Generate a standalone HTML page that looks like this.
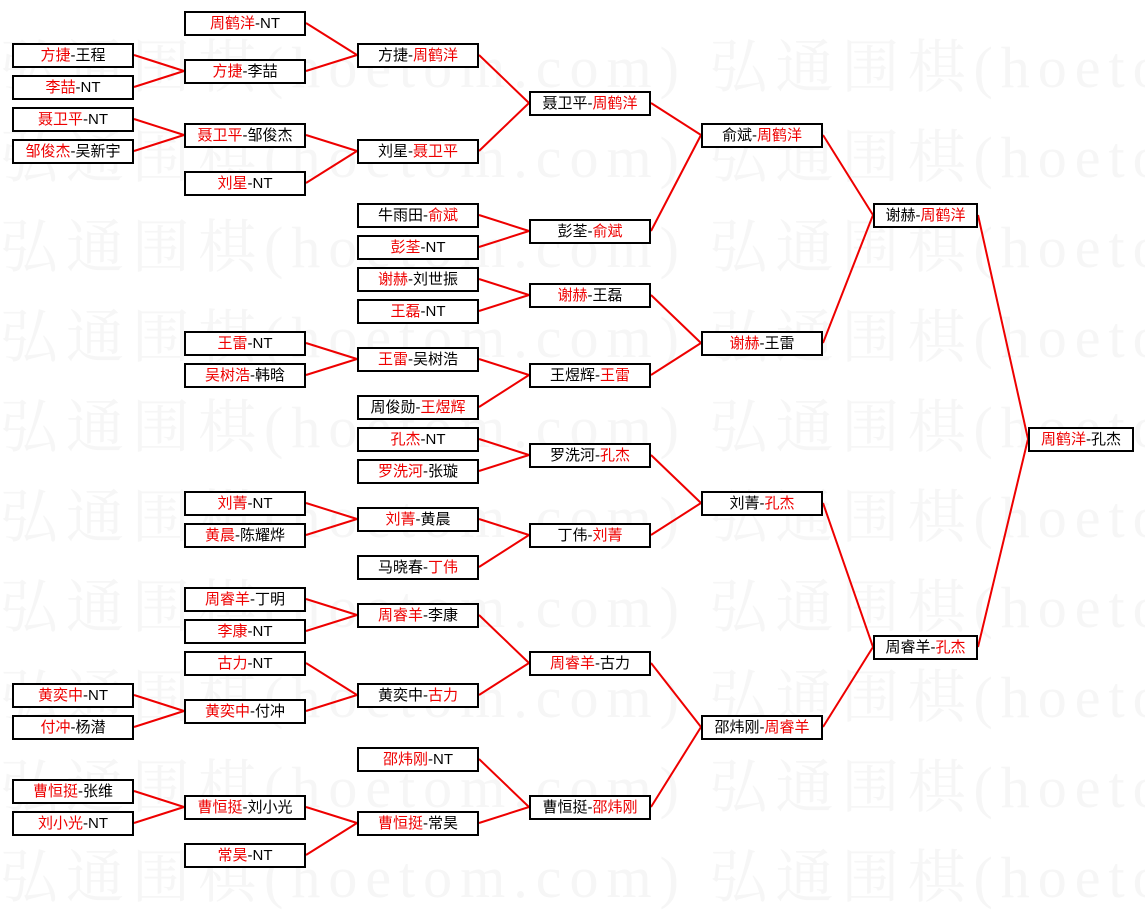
<!DOCTYPE html>
<html><head><meta charset="utf-8"><style>
body{margin:0;width:1145px;height:877px;background:#fff;position:relative;overflow:hidden;font-family:"Liberation Sans","Noto Sans CJK SC",sans-serif}
.wm{position:absolute;left:0;font-size:58px;color:#f6f6f6;white-space:nowrap;font-family:"Liberation Serif","Noto Serif CJK SC",serif;letter-spacing:8px}
.b{position:absolute;height:25px;box-sizing:border-box;border:2px solid #000;background:#fff;text-align:center;line-height:21px;font-size:15px;color:#000;white-space:nowrap}
.c1,.c2,.c3,.c4,.c5{width:122px}.c1{left:12px}.c2{left:184px}.c3{left:357px}.c4{left:529px}.c5{left:701px}
.c6{left:873px;width:105px}.c7{left:1028px;width:106px}
i{font-style:normal;color:#e00}
svg{position:absolute;left:0;top:0}
</style></head><body>
<div class="wm" style="top:20px">弘通围棋(hoetom.com) 弘通围棋(hoetom</div>
<div class="wm" style="top:110px">弘通围棋(hoetom.com) 弘通围棋(hoetom</div>
<div class="wm" style="top:200px">弘通围棋(hoetom.com) 弘通围棋(hoetom</div>
<div class="wm" style="top:290px">弘通围棋(hoetom.com) 弘通围棋(hoetom</div>
<div class="wm" style="top:380px">弘通围棋(hoetom.com) 弘通围棋(hoetom</div>
<div class="wm" style="top:470px">弘通围棋(hoetom.com) 弘通围棋(hoetom</div>
<div class="wm" style="top:560px">弘通围棋(hoetom.com) 弘通围棋(hoetom</div>
<div class="wm" style="top:650px">弘通围棋(hoetom.com) 弘通围棋(hoetom</div>
<div class="wm" style="top:740px">弘通围棋(hoetom.com) 弘通围棋(hoetom</div>
<div class="wm" style="top:830px">弘通围棋(hoetom.com) 弘通围棋(hoetom</div>
<svg width="1145" height="877"><g stroke="#e00" stroke-width="2" fill="none">
<path d="M134 55L184 71M134 87L184 71M134 119L184 135M134 151L184 135M134 695L184 711M134 727L184 711M134 791L184 807M134 823L184 807"/>
<path d="M306 23L357 55M306 71L357 55M306 135L357 151M306 183L357 151M306 343L357 359M306 375L357 359M306 503L357 519M306 535L357 519M306 599L357 615M306 631L357 615M306 663L357 695M306 711L357 695M306 807L357 823M306 855L357 823"/>
<path d="M479 55L529 103M479 151L529 103M479 215L529 231M479 247L529 231M479 279L529 295M479 311L529 295M479 359L529 375M479 407L529 375M479 439L529 455M479 471L529 455M479 519L529 535M479 567L529 535M479 615L529 663M479 695L529 663M479 759L529 807M479 823L529 807"/>
<path d="M651 103L701 135M651 231L701 135M651 295L701 343M651 375L701 343M651 455L701 503M651 535L701 503M651 663L701 727M651 807L701 727"/>
<path d="M823 135L873 215M823 343L873 215M823 503L873 647M823 727L873 647"/>
<path d="M978 215L1028 439M978 647L1028 439"/>
</g></svg>
<div class="b c1" style="top:43px"><i>方捷</i>-王程</div>
<div class="b c1" style="top:75px"><i>李喆</i>-NT</div>
<div class="b c1" style="top:107px"><i>聂卫平</i>-NT</div>
<div class="b c1" style="top:139px"><i>邹俊杰</i>-吴新宇</div>
<div class="b c1" style="top:683px"><i>黄奕中</i>-NT</div>
<div class="b c1" style="top:715px"><i>付冲</i>-杨潜</div>
<div class="b c1" style="top:779px"><i>曹恒挺</i>-张维</div>
<div class="b c1" style="top:811px"><i>刘小光</i>-NT</div>

<div class="b c2" style="top:11px"><i>周鹤洋</i>-NT</div>
<div class="b c2" style="top:59px"><i>方捷</i>-李喆</div>
<div class="b c2" style="top:123px"><i>聂卫平</i>-邹俊杰</div>
<div class="b c2" style="top:171px"><i>刘星</i>-NT</div>
<div class="b c2" style="top:331px"><i>王雷</i>-NT</div>
<div class="b c2" style="top:363px"><i>吴树浩</i>-韩晗</div>
<div class="b c2" style="top:491px"><i>刘菁</i>-NT</div>
<div class="b c2" style="top:523px"><i>黄晨</i>-陈耀烨</div>
<div class="b c2" style="top:587px"><i>周睿羊</i>-丁明</div>
<div class="b c2" style="top:619px"><i>李康</i>-NT</div>
<div class="b c2" style="top:651px"><i>古力</i>-NT</div>
<div class="b c2" style="top:699px"><i>黄奕中</i>-付冲</div>
<div class="b c2" style="top:795px"><i>曹恒挺</i>-刘小光</div>
<div class="b c2" style="top:843px"><i>常昊</i>-NT</div>

<div class="b c3" style="top:43px">方捷-<i>周鹤洋</i></div>
<div class="b c3" style="top:139px">刘星-<i>聂卫平</i></div>
<div class="b c3" style="top:203px">牛雨田-<i>俞斌</i></div>
<div class="b c3" style="top:235px"><i>彭荃</i>-NT</div>
<div class="b c3" style="top:267px"><i>谢赫</i>-刘世振</div>
<div class="b c3" style="top:299px"><i>王磊</i>-NT</div>
<div class="b c3" style="top:347px"><i>王雷</i>-吴树浩</div>
<div class="b c3" style="top:395px">周俊勋-<i>王煜辉</i></div>
<div class="b c3" style="top:427px"><i>孔杰</i>-NT</div>
<div class="b c3" style="top:459px"><i>罗洗河</i>-张璇</div>
<div class="b c3" style="top:507px"><i>刘菁</i>-黄晨</div>
<div class="b c3" style="top:555px">马晓春-<i>丁伟</i></div>
<div class="b c3" style="top:603px"><i>周睿羊</i>-李康</div>
<div class="b c3" style="top:683px">黄奕中-<i>古力</i></div>
<div class="b c3" style="top:747px"><i>邵炜刚</i>-NT</div>
<div class="b c3" style="top:811px"><i>曹恒挺</i>-常昊</div>

<div class="b c4" style="top:91px">聂卫平-<i>周鹤洋</i></div>
<div class="b c4" style="top:219px">彭荃-<i>俞斌</i></div>
<div class="b c4" style="top:283px"><i>谢赫</i>-王磊</div>
<div class="b c4" style="top:363px">王煜辉-<i>王雷</i></div>
<div class="b c4" style="top:443px">罗洗河-<i>孔杰</i></div>
<div class="b c4" style="top:523px">丁伟-<i>刘菁</i></div>
<div class="b c4" style="top:651px"><i>周睿羊</i>-古力</div>
<div class="b c4" style="top:795px">曹恒挺-<i>邵炜刚</i></div>

<div class="b c5" style="top:123px">俞斌-<i>周鹤洋</i></div>
<div class="b c5" style="top:331px"><i>谢赫</i>-王雷</div>
<div class="b c5" style="top:491px">刘菁-<i>孔杰</i></div>
<div class="b c5" style="top:715px">邵炜刚-<i>周睿羊</i></div>

<div class="b c6" style="top:203px">谢赫-<i>周鹤洋</i></div>
<div class="b c6" style="top:635px">周睿羊-<i>孔杰</i></div>

<div class="b c7" style="top:427px"><i>周鹤洋</i>-孔杰</div>
</body></html>
